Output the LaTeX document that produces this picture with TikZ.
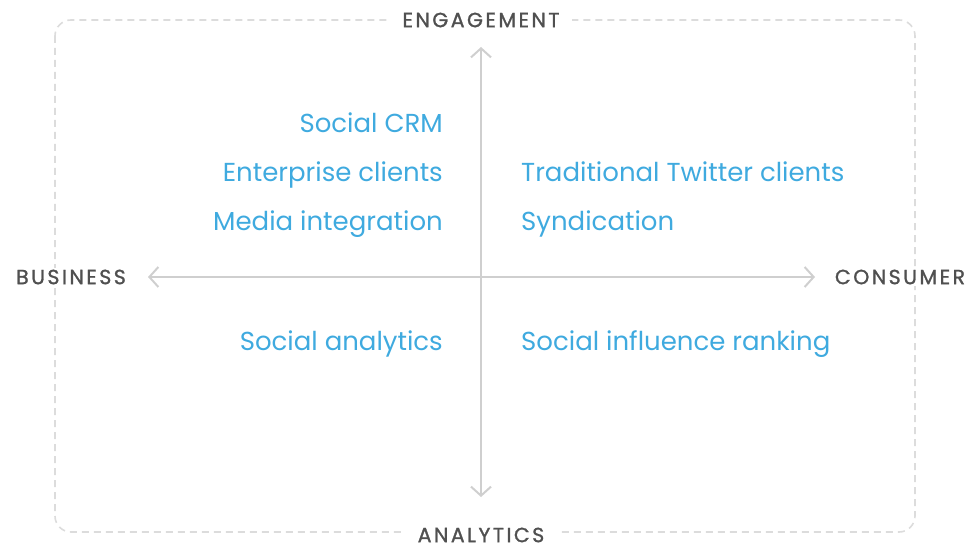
\documentclass[tikz,border=0pt]{standalone}
\usepackage{fontspec}
\setmainfont{Poppins}
\usetikzlibrary{arrows.meta}
\definecolor{itemblue}{HTML}{3FAADF}
\definecolor{axisgray}{HTML}{CFCFCF}
\definecolor{framegray}{HTML}{DCDCDC}
\definecolor{labelgray}{HTML}{505050}
\newfontfamily\capsfont[LetterSpace=12, FakeBold=1.2]{Poppins}
\begin{document}
\begin{tikzpicture}[x=1pt, y=-1pt,
  item/.style={font=\fontsize{26}{30}\selectfont, text=itemblue, inner sep=0pt},
  axislabel/.style={font=\capsfont\fontsize{20.5}{22}\selectfont, text=labelgray, fill=white, inner xsep=13pt, inner ysep=2pt},
  axisline/.style={axisgray, line width=2pt, {Straight Barb[length=9pt, width=20pt]}-{Straight Barb[length=9pt, width=20pt]}}]
\useasboundingbox (0,0) rectangle (969,548);

% Frame
\draw[framegray, line width=1.6pt, dash pattern=on 7pt off 5pt, rounded corners=16pt] (55,20) rectangle (915,532);

% Axis labels
\node[axislabel] (engagement) at (481,20) {ENGAGEMENT};
\node[axislabel] (analytics) at (481,535) {ANALYTICS};
\node[axislabel] (business) at (71,277) {BUSINESS};
\node[axislabel] (consumer) at (900,277) {CONSUMER};

% Axes
\coordinate (top) at (481,47);
\coordinate (bottom) at (481,497);
\coordinate (left) at (148,277);
\coordinate (right) at (815,277);
\draw[axisline] (bottom) -- (top);
\draw[axisline] (left) -- (right);

% Business side
\node[item, anchor=base east] (crm) at (443,133) {Social CRM};
\node[item, anchor=base east] (enterprise) at (443,182) {Enterprise clients};
\node[item, anchor=base east] (media) at (443,230) {Media integration};
\node[item, anchor=base east] (analyticsitem) at (443,350) {Social analytics};

% Consumer side
\node[item, anchor=base west] (twitter) at (521,182) {Traditional Twitter clients};
\node[item, anchor=base west] (syndication) at (521,230) {Syndication};
\node[item, anchor=base west] (ranking) at (521,350) {Social influence ranking};

\end{tikzpicture}
\end{document}
